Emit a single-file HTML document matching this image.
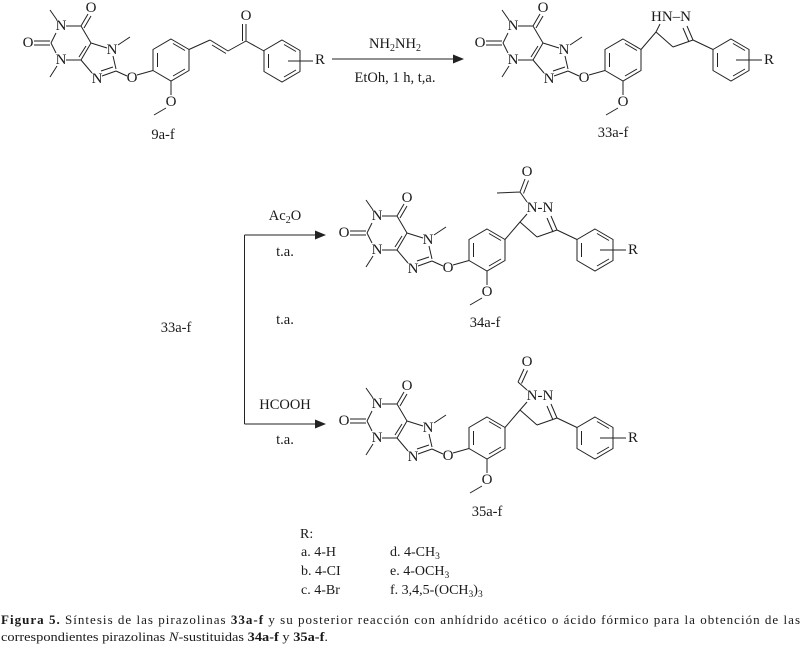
<!DOCTYPE html>
<html><head><meta charset="utf-8"><style>
html,body{margin:0;padding:0;background:#fff;}
svg{display:block;}
text{font-family:"Liberation Serif",serif;fill:#1a1a1a;}
.b path,.b polygon,.b line{stroke:#222;stroke-width:1;fill:none;}
.a{font-size:15px;text-anchor:middle;dominant-baseline:central;}
.l{font-size:14.5px;text-anchor:middle;dominant-baseline:central;}
</style></head><body>
<svg width="806" height="649" viewBox="0 0 806 649" xmlns="http://www.w3.org/2000/svg">

<!-- ===== 9a-f ===== -->
<g transform="translate(-316,-190)">
 <g class="b"><path d="M350 231H366M350 235H366M367 233L372 223M367 233L372 243M382 216H397M397 216L407 233M407 233L397 250M402 236L395 247M397 250H382M397 216L404 204M400 218L407 206M373 210L366 200M373 256L366 267M407 233L423 238M429 246L432 259M432 261L418 266M429 257L417 261M408 263L397 250M434 235L446 227M432 261L443 266M453 265L469 260.5"/>
 <polygon points="487,229 505,239.5 505,260.5 487,271 469,260.5 469,239.5"/>
 <path d="M473.5 243V257M489 233.5L501 240.5M501 259L489 266M487 271V285M482 298L470 305"/>
 <path d="M505 239.5L526 230M526 230L544 241M528 235L542 243.5M544 241L562 231M562 231V214M558.5 231V214M562 231L580 241"/>
 <polygon points="598,230 616,240.5 616,261.5 598,272 580,261.5 580,240.5"/>
 <path d="M584.5 244V258M600 234.5L612 241.5M612 260L600 267M604 251L629 251"/></g>
 <text class="a" x="344" y="233">O</text><text class="a" x="377" y="216">N</text><text class="a" x="377" y="250">N</text>
 <text class="a" x="407" y="198">O</text><text class="a" x="428" y="240">N</text><text class="a" x="413" y="269">N</text>
 <text class="a" x="448" y="268">O</text><text class="a" x="487" y="292">O</text>
 <text class="a" x="562" y="206">O</text><text class="a" x="636" y="250">R</text>
</g>
<text class="l" x="163" y="135">9a-f</text>

<!-- arrow 1 -->
<g class="b"><path d="M332 59H455"/></g>
<polygon points="453,54.5 464,59 453,63.5" fill="#222"/>
<text class="l" x="395" y="44">NH<tspan font-size="10" dy="4">2</tspan><tspan dy="-4">NH</tspan><tspan font-size="10" dy="4">2</tspan></text>
<text class="l" x="395" y="78">EtOh, 1 h, t,a.</text>

<!-- ===== 33a-f ===== -->
<g transform="translate(136,-190)">
 <g class="b"><path d="M350 231H366M350 235H366M367 233L372 223M367 233L372 243M382 216H397M397 216L407 233M407 233L397 250M402 236L395 247M397 250H382M397 216L404 204M400 218L407 206M373 210L366 200M373 256L366 267M407 233L423 238M429 246L432 259M432 261L418 266M429 257L417 261M408 263L397 250M434 235L446 227M432 261L443 266M453 265L469 260.5"/>
 <polygon points="487,229 505,239.5 505,260.5 487,271 469,260.5 469,239.5"/>
 <path d="M473.5 243V257M489 233.5L501 240.5M501 259L489 266M487 271V285M482 298L470 305"/>
 <path d="M505 239.5L520 222M520 222L524 214M520 222L537 237M537 237L557 230M557 230L551 216M553 232L547 218M557 230L577 239.5"/>
 <polygon points="595,229 613,239.5 613,260.5 595,271 577,260.5 577,239.5"/>
 <path d="M581.5 243V257M597 233.5L609 240.5M609 259L597 266M600 250L626 250"/></g>
 <text class="a" x="344" y="233">O</text><text class="a" x="377" y="216">N</text><text class="a" x="377" y="250">N</text>
 <text class="a" x="407" y="198">O</text><text class="a" x="428" y="240">N</text><text class="a" x="413" y="269">N</text>
 <text class="a" x="448" y="268">O</text><text class="a" x="487" y="292">O</text>
 <text class="a" x="535" y="207">HN–N</text><text class="a" x="633" y="250">R</text>
</g>
<text class="l" x="613" y="133">33a-f</text>

<!-- branch arrows -->
<g class="b"><path d="M244.5 235V424M244.5 235H318M244.5 424H318"/></g>
<polygon points="315,230.5 326,235 315,239.5" fill="#222"/>
<polygon points="315,419.5 326,424 315,428.5" fill="#222"/>
<text class="l" x="285" y="216">Ac<tspan font-size="10" dy="4">2</tspan><tspan dy="-4">O</tspan></text>
<text class="l" x="285" y="252">t.a.</text>
<text class="l" x="285" y="320">t.a.</text>
<text class="l" x="285" y="405">HCOOH</text>
<text class="l" x="285" y="440">t.a.</text>
<text class="l" x="176" y="328">33a-f</text>

<!-- ===== 34a-f ===== -->
<g>
 <g class="b"><path d="M350 231H366M350 235H366M367 233L372 223M367 233L372 243M382 216H397M397 216L407 233M407 233L397 250M402 236L395 247M397 250H382M397 216L404 204M400 218L407 206M373 210L366 200M373 256L366 267M407 233L423 238M429 246L432 259M432 261L418 266M429 257L417 261M408 263L397 250M434 235L446 227M432 261L443 266M453 265L469 260.5"/>
 <polygon points="487,229 505,239.5 505,260.5 487,271 469,260.5 469,239.5"/>
 <path d="M473.5 243V257M489 233.5L501 240.5M501 259L489 266M487 271V285M482 298L470 305"/>
 <path d="M505 239.5L520 222M520 222L527 214M520 222L537 237M537 237L557 230M557 230L551 216M553 232L547 218M557 230L577 239.5"/>
 <polygon points="595,229 613,239.5 613,260.5 595,271 577,260.5 577,239.5"/>
 <path d="M581.5 243V257M597 233.5L609 240.5M609 259L597 266M600 250L626 250"/>
 <path d="M527 202L520 192M520 192L497 193M520 192L525 179M523.5 193.5L528.5 180.5"/></g>
 <text class="a" x="344" y="233">O</text><text class="a" x="377" y="216">N</text><text class="a" x="377" y="250">N</text>
 <text class="a" x="407" y="198">O</text><text class="a" x="428" y="240">N</text><text class="a" x="413" y="269">N</text>
 <text class="a" x="448" y="268">O</text><text class="a" x="487" y="292">O</text>
 <text class="a" x="540" y="208">N-N</text><text class="a" x="527" y="172">O</text><text class="a" x="633" y="250">R</text>
</g>
<text class="l" x="485" y="323">34a-f</text>

<!-- ===== 35a-f ===== -->
<g transform="translate(0,188)">
 <g class="b"><path d="M350 231H366M350 235H366M367 233L372 223M367 233L372 243M382 216H397M397 216L407 233M407 233L397 250M402 236L395 247M397 250H382M397 216L404 204M400 218L407 206M373 210L366 200M373 256L366 267M407 233L423 238M429 246L432 259M432 261L418 266M429 257L417 261M408 263L397 250M434 235L446 227M432 261L443 266M453 265L469 260.5"/>
 <polygon points="487,229 505,239.5 505,260.5 487,271 469,260.5 469,239.5"/>
 <path d="M473.5 243V257M489 233.5L501 240.5M501 259L489 266M487 271V285M482 298L470 305"/>
 <path d="M505 239.5L520 222M520 222L527 214M520 222L537 237M537 237L557 230M557 230L551 216M553 232L547 218M557 230L577 239.5"/>
 <polygon points="595,229 613,239.5 613,260.5 595,271 577,260.5 577,239.5"/>
 <path d="M581.5 243V257M597 233.5L609 240.5M609 259L597 266M600 250L626 250"/>
 <path d="M527 202L518 194M518 194L524 181M521.5 195.5L527.5 182.5"/></g>
 <text class="a" x="344" y="233">O</text><text class="a" x="377" y="216">N</text><text class="a" x="377" y="250">N</text>
 <text class="a" x="407" y="198">O</text><text class="a" x="428" y="240">N</text><text class="a" x="413" y="269">N</text>
 <text class="a" x="448" y="268">O</text><text class="a" x="487" y="292">O</text>
 <text class="a" x="540" y="208">N-N</text><text class="a" x="527" y="174">O</text><text class="a" x="633" y="250">R</text>
</g>
<text class="l" x="487" y="512">35a-f</text>

<!-- R table -->
<g font-size="14">
 <text x="300" y="538">R:</text>
 <text x="301" y="556">a. 4-H</text>
 <text x="301" y="575">b. 4-CI</text>
 <text x="301" y="594">c. 4-Br</text>
 <text x="390" y="556">d. 4-CH<tspan font-size="9.5" dy="3">3</tspan></text>
 <text x="390" y="575">e. 4-OCH<tspan font-size="9.5" dy="3">3</tspan></text>
 <text x="390" y="594">f. 3,4,5-(OCH<tspan font-size="9.5" dy="3">3</tspan><tspan dy="-3">)</tspan><tspan font-size="9.5" dy="3">3</tspan></text>
</g>

<!-- caption -->
<g font-size="13">
 <text x="1" y="624" textLength="799" lengthAdjust="spacing"><tspan font-weight="bold">Figura 5.</tspan> Síntesis de las pirazolinas <tspan font-weight="bold">33a-f</tspan> y su posterior reacción con anhídrido acético o ácido fórmico para la obtención de las</text>
 <text x="1" y="641" textLength="327" lengthAdjust="spacingAndGlyphs">correspondientes pirazolinas <tspan font-style="italic">N</tspan>-sustituidas <tspan font-weight="bold">34a-f</tspan> y <tspan font-weight="bold">35a-f</tspan>.</text>
</g>
</svg>
</body></html>
